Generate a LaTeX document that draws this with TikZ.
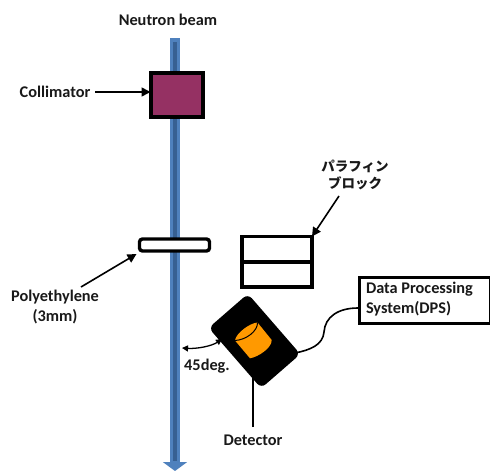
\documentclass[tikz,border=0pt]{standalone}
\usepackage{fontspec}
\setmainfont{Carlito}
\newfontfamily\cjk{Noto Sans CJK JP}
\usepackage{xcolor}
\usetikzlibrary{arrows.meta,positioning,calc}
\definecolor{beamedge}{HTML}{4F81BD}
\definecolor{beamcore}{HTML}{376092}
\definecolor{collfill}{HTML}{953163}
\definecolor{detcore}{HTML}{FF9900}

\begin{document}
\begin{tikzpicture}[x=1pt, y=-1pt, font=\bfseries\fontsize{16.3}{20}\selectfont, every node/.style={inner sep=0pt, outer sep=0pt}]
        \tikzset{
            box/.style={draw=black, line width=3.4pt, minimum width=#1},
            lab/.style={align=center, text=black!90},
            arr/.style={-{Triangle[length=9pt, width=9pt]}, line width=1.6pt},
            thin/.style={line width=1.6pt}
        }
        \useasboundingbox (0,0) rectangle (490,471);
        % beam
        \coordinate (btop) at (175,38);
        \coordinate (bbot) at (175,471);
        \draw[beamedge, line width=10pt, -{Triangle[length=9pt, width=24pt]}] (btop) -- (bbot);
        \draw[beamcore, line width=4.5pt] ($(btop)+(0,4)$) -- ($(bbot)+(0,-10)$);
        % parts
        \node[box=52pt, line width=4pt, minimum height=44pt, fill=collfill] (coll) at (176.5,94.5) {};
        \node[box=70pt, minimum height=12pt, fill=white, rounded corners=3pt] (poly) at (174.5,245) {};
        \node[box=70pt, minimum height=25.5pt, fill=white] (blocka) at (277,249.25) {};
        \node[box=70pt, minimum height=25pt, fill=white, below=0pt of blocka] (blockb) {};
        \node[box=131pt, minimum height=46pt, fill=white, anchor=north west] (dps) at (359.5,277.5) {};
        \node[fill=black, rotate=-49, minimum width=80pt, minimum height=52pt, rounded corners=6pt] (det) at (254.5,341) {};
        \coordinate (cyla) at (235,340.5);
        \coordinate (cylb) at (257.5,322.5);
        \coordinate (cylc) at (271.7,340);
        \coordinate (cyld) at (250,358.3);
        \fill[detcore] (cyla) .. controls (236,333) and (250,323) .. (cylb) -- (cylc) .. controls (272,348) and (258,357) .. (cyld) -- cycle;
        \draw[black, line width=1pt] (cyla) .. controls (246,340) and (258,331) .. (cylb);
        % labels
        \node[lab] (beamlab) at (168,20) {Neutron beam};
        \node[lab] (colllab) at (55,92) {Collimator};
        \node[lab] (polylab) at (55,307) {Polyethylene\\(3mm)};
        \node[lab, font=\cjk\bfseries\fontsize{13.5}{17}\selectfont] (paralab) at (355,174.5) {パラフィン\\ブロック};
        \node[lab, align=left, anchor=west] (dpslab) at (366,299) {Data Processing\\System(DPS)};
        \node[lab] (anglab) at (207,366) {45deg.};
        \node[lab] (detlab) at (253,440) {Detector};
        % connectors
        \coordinate (polystart) at (81,287);
        \coordinate (parastart) at (339,196);
        \coordinate (detfoot) at (253,378);
        \coordinate (detfree) at (253,427);
        \coordinate (wirea) at (358,308);
        \coordinate (wireb) at (295,353);
        \coordinate (anga) at (182,348);
        \coordinate (angb) at (222,339);
        \draw[arr] ($(colllab.east)+(5,0)$) -- (colllab.east-|coll.west);
        \draw[arr] (polystart) -- ($(poly.south west)+(-3,3)$);
        \draw[arr] (parastart) -- (blocka.north east);
        \draw[thin] (detfree) -- (detfoot);
        \draw[thin] (wirea) .. controls (338,308) and (325,317) .. (324,332) .. controls (323,345) and (310,350) .. (wireb);
        \draw[{Triangle[length=6pt, width=6pt]}-{Triangle[length=6pt, width=6pt]}, line width=1.3pt] (anga) .. controls (197,349) and (212,346) .. (angb);
\end{tikzpicture}
\end{document}
